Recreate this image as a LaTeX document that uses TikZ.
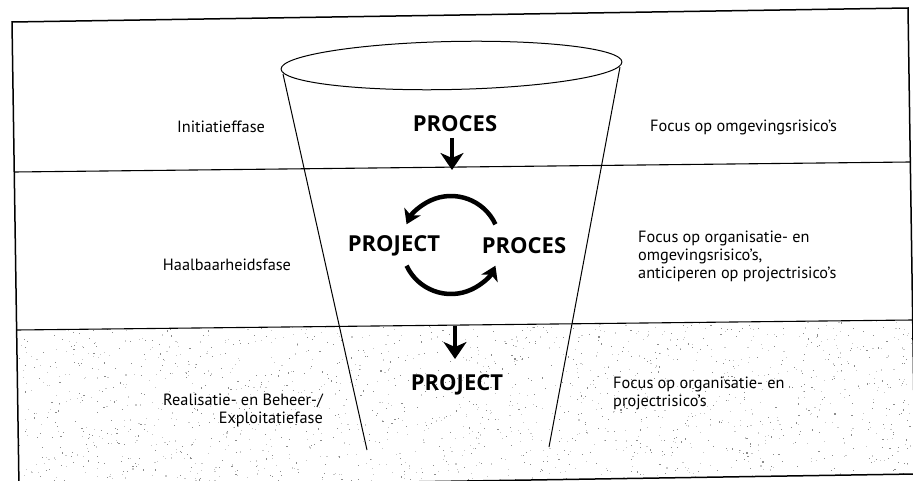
\documentclass[tikz,border=0pt]{standalone}
\usepackage{fontspec}
\setmainfont{PT Sans}
\newfontfamily\kwfont{Open Sans}
\usetikzlibrary{arrows.meta}
\begin{document}
\begin{tikzpicture}[x=1pt,y=-1pt,
  frameline/.style={line width=1.5pt},
  bandline/.style={line width=1.1pt},
  funnelline/.style={line width=1pt},
  phase/.style={font=\fontsize{16.3}{18}\selectfont, inner sep=0pt},
  keyword/.style={font=\kwfont\fontsize{22}{25}\selectfont\bfseries, inner sep=0pt},
  flow/.style={line width=4pt, -{Stealth[length=17pt,width=23pt,inset=5pt]}},
  loopflow/.style={line width=4.5pt, -{Stealth[length=14pt,width=18pt,inset=4pt]}},
]
\useasboundingbox (0,0) rectangle (913,481);

% stippled lower band
\begin{scope}
  \clip (16.6,330) -- (912.7,320) -- (915,474) -- (19,488) -- cycle;
  \pgfmathsetseed{42}
  \foreach \i in {1,...,900}{
    \fill[black!45] ({rnd*905+12},{rnd*172+316}) rectangle ++(1.1,1.1);
  }
  \foreach \i in {1,...,1100}{
    \fill[black!22] ({rnd*905+12},{rnd*172+316}) rectangle ++(1.1,1.1);
  }
\end{scope}

% outer frame and phase bands
\draw[frameline] (12,22) -- (908,8) -- (915,474) -- (19,488) -- cycle;
\draw[bandline] (14.3,172) -- (910.3,162);
\draw[bandline] (16.6,330) -- (912.7,320);

% funnel
\draw[funnelline, rotate around={1.2:(451.5,65.5)}] (451.5,65.5) ellipse [x radius=170.5, y radius=24];
\coordinate (fl1) at (283,74);
\coordinate (fl2) at (367,450);
\coordinate (fr1) at (620,67);
\coordinate (fr2) at (549,447);
\draw[funnelline] (fl1) -- (fl2);
\draw[funnelline] (fr1) -- (fr2);

% phase names
\node[phase] (ph1) at (221,127) {Initiatieffase};
\node[phase] (ph2) at (227,265) {Haalbaarheidsfase};
\node[phase, align=right, anchor=north east] (ph3) at (323,394) {Realisatie- en Beheer-/\\Exploitatiefase};

% focus per phase
\node[phase, anchor=west] (fc1) at (650,127) {Focus op omgevingsrisico's};
\node[phase, align=left, anchor=north west] (fc2) at (638,231) {Focus op organisatie- en\\omgevingsrisico's,\\anticiperen op projectrisico's};
\node[phase, align=left, anchor=north west] (fc3) at (613,377) {Focus op organisatie- en\\projectrisico's};

% process / project keywords
\node[keyword] (proc1) at (455,124) {PROCES};
\node[keyword] (proj1) at (394,246) {PROJECT};
\node[keyword] (proc2) at (524,246) {PROCES};
\node[keyword] (proj2) at (457,385) {PROJECT};

% transitions between phases
\coordinate (a1s) at (452,138);
\coordinate (a1e) at (452,170);
\draw[flow] (a1s) -- (a1e);
\coordinate (a2s) at (455,326);
\coordinate (a2e) at (455,359);
\draw[flow] (a2s) -- (a2e);

% iteration cycle between project and process
\coordinate (cc) at (451,245);
\draw[loopflow] (cc) ++(-25:49) arc[start angle=-25, end angle=-155, radius=49];
\draw[loopflow] (cc) ++(155:49) arc[start angle=155, end angle=25, radius=49];
\end{tikzpicture}
\end{document}
